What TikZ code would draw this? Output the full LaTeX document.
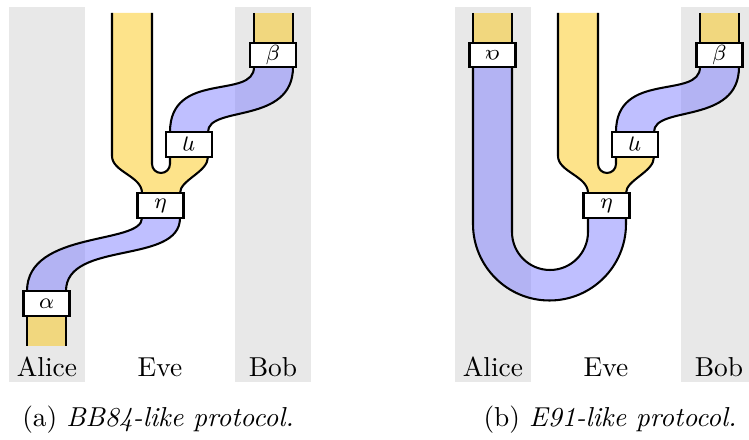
\documentclass[tikz,border=0pt]{standalone}
\usepackage{graphicx}
\definecolor{qblue}{RGB}{128,128,255}
\definecolor{qyellow}{RGB}{251,199,21}
\definecolor{bandgray}{RGB}{232,232,232}
\newcommand{\roteta}{\rotatebox[origin=c]{180}{$\eta$}}
\newcommand{\rotalpha}{\rotatebox[origin=c]{180}{$\alpha$}}
\begin{document}
\begin{tikzpicture}[x=0.365pt,y=-0.365pt,
  edge/.style={line width=0.75pt, line join=round},
  bluefill/.style={fill=qblue, fill opacity=0.5},
  yelfill/.style={fill=qyellow, fill opacity=0.5},
  qbox/.style={draw, line width=0.75pt, fill=white, minimum width=16.8pt, minimum height=8.8pt, inner sep=0pt, font=\footnotesize},
  bandbox/.style={fill=bandgray},
  who/.style={anchor=base},
]
\useasboundingbox (0,0) rectangle (749,440);
\clip (0,0) rectangle (749,440);

% ---------- bands ----------
\fill[bandbox] (9,7) rectangle (85,382);
\fill[bandbox] (235,7) rectangle (311,382);
\fill[bandbox] (455,7) rectangle (531,382);
\fill[bandbox] (681,7) rectangle (757,382);

% ================= panel (a) =================
% Bob yellow
\fill[yelfill] (254,13) rectangle (293,43);
\draw[edge] (254,13) -- (254,43) (293,13) -- (293,43);
% top S (blue)
\fill[bluefill] (170,132) .. controls (170,70) and (254,100) .. (254,67) -- (293,67) .. controls (293,125) and (208,105) .. (208,132) -- cycle;
\draw[edge] (170,132) .. controls (170,70) and (254,100) .. (254,67);
\draw[edge] (208,132) .. controls (208,105) and (293,125) .. (293,67);
% Eve pants (yellow)
\fill[yelfill] (112,13) -- (112,156) .. controls (112,172) and (142,176) .. (142,193) -- (180,193) .. controls (180,180) and (208,172) .. (208,157) -- (170,157) -- (170,164) arc[start angle=0,end angle=180,radius=9] -- (152,13) -- cycle;
\draw[edge] (112,13) -- (112,156) .. controls (112,172) and (142,176) .. (142,193);
\draw[edge] (180,193) .. controls (180,180) and (208,172) .. (208,157);
\draw[edge] (170,157) -- (170,164) arc[start angle=0,end angle=180,radius=9] -- (152,13);
% bottom S (blue)
\fill[bluefill] (142,218) .. controls (142,245) and (27,230) .. (27,291) -- (66,291) .. controls (66,240) and (180,265) .. (180,218) -- cycle;
\draw[edge] (142,218) .. controls (142,245) and (27,230) .. (27,291);
\draw[edge] (180,218) .. controls (180,265) and (66,240) .. (66,291);
% Alice yellow
\fill[yelfill] (27,316) rectangle (66,346);
\draw[edge] (27,316) -- (27,346) (66,316) -- (66,346);
% boxes
\node[qbox] (betaA) at (273,55) {$\beta$};
\node[qbox] (retaA) at (189,144.5) {\roteta};
\node[qbox] (etaA) at (160.5,205.5) {$\eta$};
\node[qbox] (alphaA) at (46.5,303.5) {$\alpha$};
% labels
\node[who] (aliceA) at (47,377) {Alice};
\node[who] (eveA) at (160,377) {Eve};
\node[who] (bobA) at (273,377) {Bob};
\node[who] (capA) at (158,427) {(a) \textit{BB84-like protocol.}};

% ================= panel (b) =================
% Bob yellow
\fill[yelfill] (700,13) rectangle (739,43);
\draw[edge] (700,13) -- (700,43) (739,13) -- (739,43);
% top S (blue)
\fill[bluefill] (616,132) .. controls (616,70) and (700,100) .. (700,67) -- (739,67) .. controls (739,125) and (654,105) .. (654,132) -- cycle;
\draw[edge] (616,132) .. controls (616,70) and (700,100) .. (700,67);
\draw[edge] (654,132) .. controls (654,105) and (739,125) .. (739,67);
% Eve pants (yellow)
\fill[yelfill] (558,13) -- (558,156) .. controls (558,172) and (588,176) .. (588,193) -- (626,193) .. controls (626,180) and (654,172) .. (654,157) -- (616,157) -- (616,164) arc[start angle=0,end angle=180,radius=9] -- (598,13) -- cycle;
\draw[edge] (558,13) -- (558,156) .. controls (558,172) and (588,176) .. (588,193);
\draw[edge] (626,193) .. controls (626,180) and (654,172) .. (654,157);
\draw[edge] (616,157) -- (616,164) arc[start angle=0,end angle=180,radius=9] -- (598,13);
% Alice yellow
\fill[yelfill] (473,13) rectangle (512,43);
\draw[edge] (473,13) -- (473,43) (512,13) -- (512,43);
% U (blue)
\fill[bluefill] (473,67) -- (473,224) arc[start angle=180,end angle=0,radius=76.5] -- (626,218) -- (588,218) -- (588,232) arc[start angle=0,end angle=180,radius=38] -- (512,67) -- cycle;
\draw[edge] (473,67) -- (473,224) arc[start angle=180,end angle=0,radius=76.5] -- (626,218);
\draw[edge] (588,218) -- (588,232) arc[start angle=0,end angle=180,radius=38] -- (512,67);
% boxes
\node[qbox] (betaB) at (719.5,55) {$\beta$};
\node[qbox] (ralphaB) at (492.5,55) {\rotalpha};
\node[qbox] (retaB) at (635,144.5) {\roteta};
\node[qbox] (etaB) at (606.5,205.5) {$\eta$};
% labels
\node[who] (aliceB) at (493,377) {Alice};
\node[who] (eveB) at (606,377) {Eve};
\node[who] (bobB) at (719,377) {Bob};
\node[who] (capB) at (610,427) {(b) \textit{E91-like protocol.}};
\end{tikzpicture}
\end{document}
